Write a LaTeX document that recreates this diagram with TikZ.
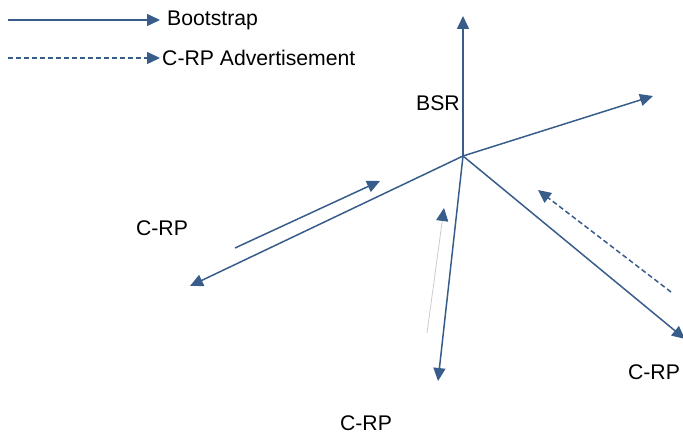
\documentclass[tikz,border=0pt]{standalone}
\usepackage{fontspec}
\setmainfont{Liberation Sans}
\usetikzlibrary{arrows.meta}
\definecolor{lineblue}{HTML}{385D8A}
\definecolor{thingray}{HTML}{C8CCD2}
\tikzset{
  conn/.style={draw=lineblue, line width=1.5pt, -{Triangle[length=13pt,width=12pt]}},
  adv/.style={conn, dash pattern=on 5pt off 3pt},
  faint/.style={draw=thingray, line width=0.8pt, -{Triangle[length=13pt,width=12pt,color=lineblue,fill=lineblue]}},
  lbl/.style={inner sep=0pt, font=\fontsize{21.2}{25}\selectfont, text=black}
}
\begin{document}
\begin{tikzpicture}[x=1pt,y=-1pt]
\useasboundingbox (0,0) rectangle (683,436);
% legend
\coordinate (l1) at (8,20);
\node[lbl, anchor=west] (boot) at (167,20) {Bootstrap};
\coordinate (l2) at (8,58);
\node[lbl, anchor=west] (advl) at (162,58) {C-RP Advertisement};
\draw[conn] (l1) -- (160,20);
\draw[adv] (l2) -- (160,58);
% hub
\coordinate (hub) at (463,156);
\coordinate (up) at (463,16);
\coordinate (right) at (653,96);
\coordinate (left) at (190,286);
\coordinate (down) at (438,381);
\coordinate (dright) at (685,339);
\draw[conn] (hub) -- (up);
\draw[conn] (hub) -- (right);
\draw[conn] (hub) -- (left);
\draw[conn] (hub) -- (down);
\draw[conn] (hub) -- (dright);
% parallel arrows
\coordinate (p1s) at (235,248);
\coordinate (p1e) at (380,181);
\draw[conn] (p1s) -- (p1e);
\coordinate (p2s) at (427,333);
\coordinate (p2e) at (444,208);
\draw[faint] (p2s) -- (p2e);
\coordinate (p3s) at (671,292);
\coordinate (p3e) at (538,190);
\draw[adv] (p3s) -- (p3e);
% labels
\node[lbl] (bsr) at (438,103) {BSR};
\node[lbl] (crpl) at (162,228) {C-RP};
\node[lbl] (crpb) at (366,423) {C-RP};
\node[lbl] (crpr) at (654,372) {C-RP};
\end{tikzpicture}
\end{document}
